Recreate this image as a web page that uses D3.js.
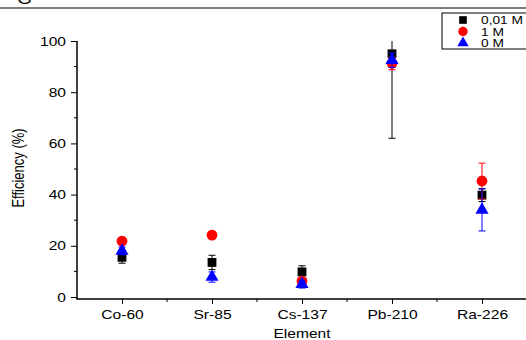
<!doctype html>
<html>
<head>
<meta charset="utf-8" />
<title>Efficiency</title>
<script src="https://d3js.org/d3.v7.min.js"></script>
<style>
  body { margin: 0; background: #fff; }
  text { font-family: "Liberation Sans", Arial, sans-serif; fill: #000; }
</style>
</head>
<body>
<svg id="chart" width="526" height="340"></svg>
<script>
// data
var categories = ["Co-60", "Sr-85", "Cs-137", "Pb-210", "Ra-226"];
var seriesNames = ["0,01 M", "1 M", "0 M"];
var val001 = [15.5, 13.5, 9.8, 95.0, 39.8];
var err001 = [2.3, 2.8, 2.4, 33, 2.5];
var val1 = [21.8, 24.2, 6.2, 91.3, 45.3];
var err1 = [0.5, 0.5, 0.5, 2.5, 7.0];
var val0 = [18.0, 7.8, 5.0, 92.5, 34.0];
var err0 = [1.5, 2.0, 1.5, 2.8, 8.2];
var yTicks = [0, 20, 40, 60, 80, 100];

var sx = 1.2; // the source picture is stretched sideways

var svg = d3.select("#chart");

var x = d3.scaleLinear().domain([0.5, 5.5]).range([77, 527]);
var y = d3.scaleLinear().domain([0, 100]).range([297, 41]);

// top rule and stray letter from the page
svg.append("line").attr("x1", 0).attr("x2", 526).attr("y1", 8).attr("y2", 8)
   .style("stroke", "#000").style("stroke-width", 1.2);
svg.append("text").attr("transform", `translate(17,4) scale(${sx},1)`).style("font-size", "16px").text("G");

svg.append("clipPath").attr("id", "plotClip")
   .append("rect").attr("x", 77).attr("y", y(100)).attr("width", 450).attr("height", y(0) - y(100) + 2);

var series = [
    {name: seriesNames[0], vals: val001, errs: err001, color: "#000", shape: d3.symbolSquare, size: 78},
    {name: seriesNames[1], vals: val1, errs: err1, color: "#f00", shape: d3.symbolCircle, size: 92},
    {name: seriesNames[2], vals: val0, errs: err0, color: "#00f", shape: d3.symbolTriangle, size: 75}
];

var plot = svg.append("g").attr("clip-path", "url(#plotClip)");

series.forEach(function(s) {
    var pts = categories.map(function(c, i) { return {i: i + 1, v: s.vals[i], e: s.errs[i]}; });
    var g = plot.append("g");
    var eb = g.selectAll("g.err").data(pts).enter().append("g").attr("class", "err")
        .style("stroke", s.color).style("stroke-width", 1);
    eb.append("line")
        .attr("x1", d => x(d.i)).attr("x2", d => x(d.i))
        .attr("y1", d => y(d.v + d.e)).attr("y2", d => y(d.v - d.e));
    eb.append("line")
        .attr("x1", d => x(d.i) - 3.5).attr("x2", d => x(d.i) + 3.5)
        .attr("y1", d => y(d.v + d.e)).attr("y2", d => y(d.v + d.e));
    eb.append("line")
        .attr("x1", d => x(d.i) - 3.5).attr("x2", d => x(d.i) + 3.5)
        .attr("y1", d => y(d.v - d.e)).attr("y2", d => y(d.v - d.e));
    g.selectAll("path.mark").data(pts).enter().append("path").attr("class", "mark")
        .attr("d", d3.symbol().type(s.shape).size(s.size))
        .attr("transform", d => `translate(${x(d.i)}, ${y(d.v)})`)
        .style("fill", s.color);
});

// y axis
var yAxis = svg.append("g").attr("transform", "translate(77,0)");
yAxis.call(d3.axisLeft(y).tickValues(yTicks).tickSize(6).tickPadding(5));
yAxis.append("g").selectAll("line").data(d3.range(10, 100, 20)).enter().append("line")
    .attr("x1", 0).attr("x2", -3).attr("y1", d => y(d)).attr("y2", d => y(d))
    .style("stroke", "#000");
yAxis.select(".domain").attr("d", `M0,${y(100)}V${y(0) + 2}`);
yAxis.selectAll(".tick text").attr("x", -11 / sx);

// x axis
var xAxis = svg.append("g").attr("transform", "translate(0,299)");
xAxis.call(d3.axisBottom(x).tickValues([1, 2, 3, 4, 5]).tickFormat(d => categories[d - 1]).tickSize(5).tickPadding(6));
xAxis.append("g").selectAll("line").data([1.5, 2.5, 3.5, 4.5]).enter().append("line")
    .attr("x1", d => x(d)).attr("x2", d => x(d)).attr("y1", 0).attr("y2", 3)
    .style("stroke", "#000");
xAxis.select(".domain").attr("d", `M${x(0.5) - 1},0H526`);

svg.selectAll(".domain").style("stroke", "#000").style("stroke-width", 1.5);
svg.selectAll(".tick line").style("stroke", "#000");
svg.selectAll(".tick text").style("font-size", "13px").style("fill", "#000")
   .style("font-family", "'Liberation Sans', Arial, sans-serif")
   .attr("transform", `scale(${sx},1)`);

// axis titles
svg.append("text").attr("transform", `translate(24,168) rotate(-90) scale(1,${sx})`)
   .attr("text-anchor", "middle").style("font-size", "13px").text("Efficiency (%)");
svg.append("text").attr("transform", `translate(302,338) scale(${sx},1)`)
   .attr("text-anchor", "middle").style("font-size", "13px").text("Element");

// legend
var legend = svg.append("g");
legend.append("rect").attr("x", 442).attr("y", 13).attr("width", 90).attr("height", 36)
    .style("fill", "#fff").style("stroke", "#000").style("stroke-width", 1);
series.forEach(function(s, k) {
    var ly = 20 + k * 11.5;
    legend.append("path").attr("d", d3.symbol().type(s.shape).size(s.size * 0.75))
        .attr("transform", `translate(463, ${ly})`).style("fill", s.color);
    legend.append("text").attr("transform", `translate(481, ${ly + 4}) scale(1.25,1)`)
        .style("font-size", "11px").text(s.name);
});
</script>
</body>
</html>
